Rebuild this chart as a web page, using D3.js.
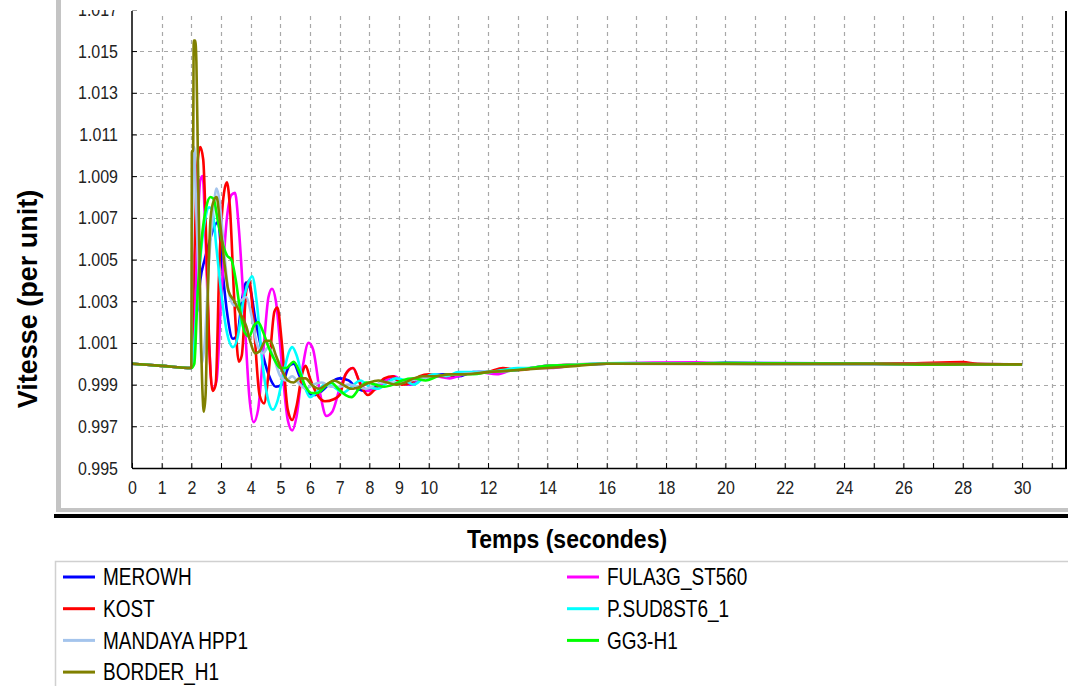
<!DOCTYPE html>
<html><head><meta charset="utf-8">
<script src="https://cdn.jsdelivr.net/npm/d3@7"></script>
<style>
html,body{margin:0;padding:0;background:#fff;}
svg{display:block;font-family:"Liberation Sans",Arial,sans-serif;}
</style></head>
<body><svg id="c" width="1068" height="686"></svg>
<script>
// ---------- data ----------
const seriesNames = ["MEROWH","FULA3G_ST560","KOST","P.SUD8ST6_1","MANDAYA HPP1","GG3-H1","BORDER_H1"];
const seriesColors = ["#0000ff","#ff00ff","#ff0000","#00ffff","#a4c4ec","#00ff00","#808000"];
const xTickValues = [0,1,2,3,4,5,6,7,8,9,10,11,12,13,14,15,16,17,18,19,20,21,22,23,24,25,26,27,28,29,30,31];
const xTickLabels = ["0","1","2","3","4","5","6","7","8","9","10","12","14","16","18","20","22","24","26","28","30"];
const yTickValues = [0.995,0.997,0.999,1.001,1.003,1.005,1.007,1.009,1.011,1.013,1.015,1.017];

const merowh = [[0,1.0000],[1,0.9999],[2.0,0.9998],[2.05,1.0030],[2.12,1.0045],[2.2,1.0025],[2.3,1.0040],[2.45,1.0050],[2.6,1.0058],[2.75,1.0065],[2.9,1.0068],[3.05,1.0045],[3.2,1.0025],[3.4,1.0012],[3.55,1.0014],[3.7,1.0030],[3.85,1.0039],[4.0,1.0035],[4.15,1.0022],[4.35,1.0008],[4.6,0.9995],[4.85,0.9989],[5.05,0.9990],[5.3,0.9999],[5.45,1.0000],[5.65,0.9994],[5.9,0.9987],[6.15,0.9985],[6.4,0.9987],[6.7,0.9991],[7.0,0.9993],[7.3,0.9992],[7.6,0.9988],[7.9,0.9987],[8.2,0.9989],[8.5,0.9992],[8.8,0.9993],[9.1,0.9991],[9.4,0.9990],[9.7,0.9992],[10,0.9994],[10.5,0.9995],[11,0.9994],[11.5,0.9996],[12,0.9996],[13,0.9997],[14,0.9999],[15,0.99995],[16,1.0000],[18,1.0000],[20,1.00005],[25,1.0000],[30,0.99997]];

const fula3g = [[0,1.0000],[1,0.9999],[2.0,0.9998],[2.1,1.0020],[2.2,1.0060],[2.3,1.0088],[2.38,1.0090],[2.48,1.0060],[2.6,1.0010],[2.72,0.9988],[2.85,0.9992],[3.0,1.0030],[3.2,1.0070],[3.35,1.0081],[3.47,1.0082],[3.6,1.0065],[3.8,1.0020],[3.95,0.9985],[4.1,0.9972],[4.25,0.9978],[4.45,1.0010],[4.6,1.0032],[4.72,1.0036],[4.85,1.0030],[5.05,1.0000],[5.25,0.9973],[5.4,0.9968],[5.55,0.9975],[5.75,0.9998],[5.95,1.0010],[6.1,1.0007],[6.35,0.9985],[6.55,0.9975],[6.75,0.9977],[7.0,0.9988],[7.3,0.9997],[7.45,0.9998],[7.65,0.9992],[7.95,0.9987],[8.25,0.9988],[8.55,0.9992],[8.85,0.9994],[9.15,0.9991],[9.45,0.9990],[9.8,0.9993],[10.2,0.9994],[10.7,0.9993],[11.2,0.9995],[11.7,0.9996],[12.3,0.9995],[12.8,0.9997],[13.5,0.9998],[14.2,0.9998],[15,0.99995],[16,1.0000],[19,1.00007],[20,1.0000],[30,0.99997]];

const kost = [[0,1.0000],[1,0.9999],[2.0,0.9998],[2.05,1.0030],[2.12,1.0060],[2.2,1.0095],[2.3,1.0104],[2.4,1.0098],[2.5,1.0060],[2.6,1.0010],[2.72,0.9987],[2.82,0.9990],[2.95,1.0050],[3.1,1.0082],[3.2,1.0087],[3.3,1.0075],[3.45,1.0030],[3.6,1.0001],[3.7,1.0004],[3.85,1.0035],[3.95,1.0040],[4.1,1.0020],[4.3,0.9985],[4.45,0.9981],[4.6,0.9995],[4.8,1.0025],[4.9,1.0027],[5.05,1.0010],[5.25,0.9978],[5.4,0.9973],[5.55,0.9980],[5.75,0.9996],[5.85,0.9999],[6.0,0.9993],[6.25,0.9985],[6.5,0.9982],[6.8,0.9983],[7.0,0.9985],[7.2,0.9995],[7.45,0.9998],[7.7,0.9990],[7.95,0.9985],[8.2,0.9988],[8.5,0.9993],[8.8,0.9994],[9.1,0.9990],[9.4,0.9991],[9.7,0.9994],[10,0.9995],[10.5,0.9994],[11,0.9995],[12,0.9996],[12.5,0.9998],[13,0.9997],[14,0.9999],[16,1.0000],[20,1.0000],[26,1.00002],[28,1.00008],[28.5,1.0000],[30,0.99997]];

const psud = [[0,1.0000],[1,0.9999],[2.0,0.9998],[2.05,1.0000],[2.15,1.0020],[2.3,1.0050],[2.45,1.0068],[2.6,1.0075],[2.7,1.0074],[2.85,1.0055],[3.0,1.0035],[3.2,1.0015],[3.4,1.0008],[3.55,1.0012],[3.75,1.0030],[3.95,1.0040],[4.05,1.0042],[4.2,1.0030],[4.4,1.0000],[4.6,0.9982],[4.75,0.9978],[4.9,0.9982],[5.1,0.9995],[5.3,1.0006],[5.4,1.0008],[5.55,1.0004],[5.8,0.9990],[6.0,0.9984],[6.2,0.9986],[6.5,0.9990],[6.8,0.9989],[7.1,0.9986],[7.4,0.9989],[7.7,0.9992],[8.0,0.9989],[8.3,0.9988],[8.6,0.9991],[8.9,0.9993],[9.2,0.9992],[9.5,0.9990],[9.8,0.9993],[10.2,0.9995],[10.6,0.9994],[11,0.9996],[11.5,0.9996],[12,0.9996],[12.5,0.9997],[13,0.9998],[13.5,0.9998],[14.5,0.9999],[15.5,1.0000],[16.5,1.00003],[20,1.0000],[30,0.99997]];

const mandaya = [[0,1.0000],[1,0.9999],[2.0,0.9998],[2.02,1.0040],[2.05,1.0102],[2.1,1.0104],[2.15,1.0080],[2.25,1.0040],[2.35,1.0000],[2.45,1.0010],[2.6,1.0050],[2.75,1.0075],[2.85,1.0084],[2.95,1.0078],[3.1,1.0055],[3.25,1.0035],[3.45,1.0028],[3.65,1.0030],[3.85,1.0032],[4.0,1.0025],[4.2,1.0010],[4.4,1.0005],[4.6,1.0008],[4.8,1.0002],[5.0,0.9994],[5.2,0.9992],[5.4,0.9994],[5.6,0.9991],[5.85,0.9988],[6.1,0.9990],[6.4,0.9991],[6.7,0.9989],[7.0,0.9989],[7.3,0.9990],[7.6,0.9989],[7.9,0.9988],[8.2,0.9990],[8.5,0.9991],[8.8,0.9991],[9.1,0.9991],[9.4,0.9992],[9.8,0.9993],[10.2,0.9994],[11,0.9995],[12,0.9996],[13,0.9997],[14,0.9999],[16,1.0000],[30,0.99997]];

const gg3 = [[0,1.0000],[1,0.9999],[2.0,0.9998],[2.1,1.0000],[2.2,1.0030],[2.35,1.0060],[2.5,1.0075],[2.65,1.0080],[2.75,1.0079],[2.9,1.0068],[3.05,1.0058],[3.2,1.0052],[3.35,1.0050],[3.5,1.0040],[3.65,1.0025],[3.8,1.0015],[3.95,1.0013],[4.1,1.0018],[4.25,1.0020],[4.4,1.0016],[4.6,1.0008],[4.8,1.0002],[5.0,0.9998],[5.2,0.9998],[5.45,1.0001],[5.65,0.9996],[5.85,0.9989],[6.05,0.9986],[6.25,0.9986],[6.5,0.9989],[6.7,0.9991],[6.95,0.9988],[7.2,0.9985],[7.4,0.9984],[7.65,0.9988],[7.9,0.9991],[8.2,0.9990],[8.5,0.9989],[8.8,0.9990],[9.1,0.9992],[9.5,0.9993],[9.9,0.9992],[10.3,0.9994],[10.8,0.9995],[11.5,0.9995],[12,0.9996],[13,0.9997],[14,0.9999],[15,0.99995],[16,1.0000],[18,1.0000],[20,1.00003],[25,1.0000],[27,0.99995],[28,0.99997],[30,0.99997]];

const border = [[0,1.0000],[1,0.9999],[2.0,0.9998],[2.02,1.0102],[2.06,1.0102],[2.08,1.0155],[2.13,1.0155],[2.17,1.0145],[2.22,1.0100],[2.3,1.0030],[2.38,0.9985],[2.42,0.9977],[2.48,0.9985],[2.55,1.0030],[2.65,1.0070],[2.75,1.0078],[2.85,1.0080],[2.95,1.0070],[3.1,1.0050],[3.25,1.0035],[3.45,1.0030],[3.65,1.0024],[3.85,1.0018],[4.0,1.0010],[4.15,1.0005],[4.3,1.0006],[4.5,1.0011],[4.65,1.0011],[4.85,1.0004],[5.05,0.9997],[5.25,0.9992],[5.45,0.9991],[5.65,0.9993],[5.85,0.9993],[6.05,0.9990],[6.3,0.9988],[6.55,0.9990],[6.8,0.9992],[7.1,0.9990],[7.4,0.9988],[7.7,0.9989],[8.0,0.9991],[8.3,0.9992],[8.6,0.9991],[8.9,0.9990],[9.2,0.9991],[9.5,0.9993],[9.8,0.9994],[10.2,0.9994],[10.7,0.9995],[11.2,0.9995],[12,0.9996],[13,0.9997],[14,0.9998],[15,0.9999],[16,1.0000],[30,0.99997]];

const seriesData = [merowh, fula3g, kost, psud, mandaya, gg3, border];
// legend layout order (column-wise as displayed)
const legendOrder = [0,2,4,6,1,3,5];

// ---------- drawing ----------
const svg = d3.select("#c");
const W = 1068, H = 686;
const plot = {left:132, right:1066, top:11, bottom:468};

svg.append("rect").attr("width",W).attr("height",H).attr("fill","#fff");

const x = d3.scaleLinear().domain([0, 31.48]).range([plot.left, plot.right]);
const y = d3.scaleLinear().domain([0.995, 1.01745]).range([plot.bottom, 0]);

// outer panel decorations
svg.append("rect").attr("x",56).attr("y",0).attr("width",5).attr("height",512).attr("fill","#c4c4c4");
svg.append("rect").attr("x",56).attr("y",508).attr("width",W-56).attr("height",4).attr("fill","#c4c4c4");
svg.append("rect").attr("x",54).attr("y",514).attr("width",W-54).attr("height",4).attr("fill","#000");

// grid
const grid = svg.append("g").attr("stroke","#a8a8a8").attr("stroke-width",1.2).attr("stroke-dasharray","4,4");
grid.selectAll("line.v").data(xTickValues.filter(d=>d>0)).join("line")
  .attr("x1",d=>Math.round(x(d))+0.5).attr("x2",d=>Math.round(x(d))+0.5)
  .attr("y1",plot.bottom).attr("y2",plot.top+4);
grid.selectAll("line.h").data(yTickValues.filter(d=>d>0.995 && y(d)>plot.top)).join("line")
  .attr("x1",plot.left).attr("x2",plot.right)
  .attr("y1",d=>Math.round(y(d))+0.5).attr("y2",d=>Math.round(y(d))+0.5);

// clip
svg.append("clipPath").attr("id","clip").append("rect")
  .attr("x",plot.left).attr("y",plot.top).attr("width",plot.right-plot.left).attr("height",plot.bottom-plot.top);

const line = d3.line().x(d=>x(d[0])).y(d=>y(d[1])).curve(d3.curveMonotoneX);
const lines = svg.append("g").attr("clip-path","url(#clip)");
seriesData.forEach((s,i)=>{
  lines.append("path").attr("d",line(s)).attr("fill","none")
    .attr("stroke",seriesColors[i]).attr("stroke-width",2.6).attr("stroke-linejoin","round");
});

// axes
const labelSet = new Set(xTickLabels);
const xAxis = d3.axisBottom(x).tickValues(xTickValues).tickSizeInner(-5).tickSizeOuter(0).tickPadding(14)
  .tickFormat(d=>labelSet.has(String(d))?String(d):"");
const gx = svg.append("g").attr("transform",`translate(0,${plot.bottom})`).call(xAxis);
gx.select(".domain").attr("stroke","#000").attr("stroke-width",1.5);
gx.selectAll(".tick line").attr("stroke","#000");
gx.selectAll("text").attr("font-size",16).attr("fill","#222").attr("font-family","Liberation Sans, Arial, sans-serif")
  .attr("transform","translate(0,21) scale(1,1.18) translate(0,-21)");

const yAxis = d3.axisLeft(y).tickValues(yTickValues).tickSizeInner(-5).tickSizeOuter(0).tickPadding(14)
  .tickFormat(d3.format(".3f"));
const gy = svg.append("g").attr("transform",`translate(${plot.left},0)`).call(yAxis);
gy.select(".domain").attr("stroke","#000").attr("stroke-width",1.5);
gy.selectAll(".tick line").attr("stroke","#000");
gy.selectAll("text").attr("font-size",16).attr("fill","#222").attr("font-family","Liberation Sans, Arial, sans-serif")
  .attr("transform","scale(1,1.18)").attr("y",0).attr("dy","0.32em");
// mask above the plot top (the topmost label is cut off in the original)
svg.append("rect").attr("x",62).attr("y",0).attr("width",W-62).attr("height",plot.top-1).attr("fill","#fff");
gy.select(".domain").attr("d",`M0,${plot.bottom}V${plot.top}`);

// right border
svg.append("line").attr("x1",plot.right).attr("x2",plot.right).attr("y1",plot.top).attr("y2",plot.bottom+1)
  .attr("stroke","#000").attr("stroke-width",2);

// titles
svg.append("text").attr("transform","translate(567,548) scale(1,1.12)").attr("text-anchor","middle")
  .attr("font-size",23).attr("font-weight","bold").attr("fill","#000").text("Temps (secondes)");
svg.append("text").attr("transform","translate(37,299) rotate(-90)").attr("text-anchor","middle")
  .attr("font-size",27).attr("font-weight","bold").attr("fill","#000").text("Vitesse (per unit)");

// legend
svg.append("rect").attr("x",55.5).attr("y",561.5).attr("width",W).attr("height",200)
  .attr("fill","#fff").attr("stroke","#d0d0d0").attr("stroke-width",1.5);
const lg = svg.append("g");
legendOrder.forEach((si,k)=>{
  const col = k<4?0:1, row = k<4?k:k-4;
  const lx = col===0?63:567, ly = 577 + row*31.7;
  lg.append("line").attr("x1",lx).attr("x2",lx+32).attr("y1",ly).attr("y2",ly)
    .attr("stroke",seriesColors[si]).attr("stroke-width",3);
  lg.append("text").attr("transform",`translate(${lx+40},${ly}) scale(1,1.22)`).attr("dy","0.36em")
    .attr("font-size",19).attr("fill","#000").text(seriesNames[si]);
});
</script></body></html>
